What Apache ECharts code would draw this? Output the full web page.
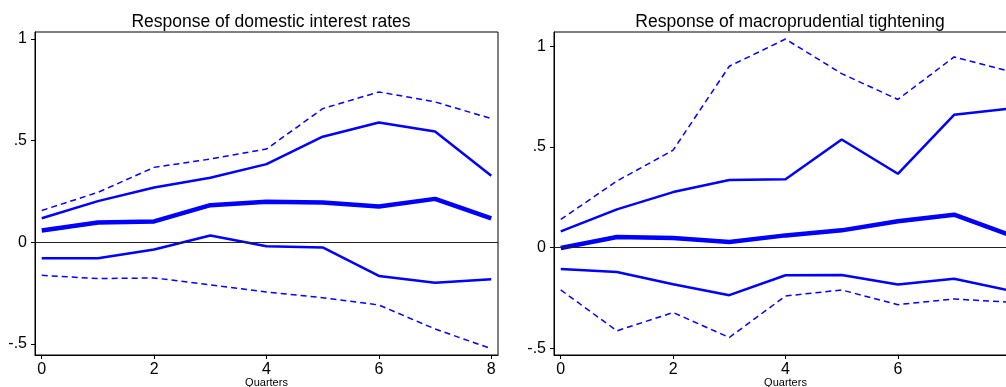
<!DOCTYPE html>
<html>
<head>
<meta charset="utf-8">
<script src="https://cdn.jsdelivr.net/npm/echarts@6/dist/echarts.min.js"></script>
<style>
  html, body { margin: 0; padding: 0; background: #fff; }
  #chart { width: 1006px; height: 387px; }
</style>
</head>
<body>
<div id="chart"></div>
<script>
  // horizon in quarters
  var quarters = [0, 1, 2, 3, 4, 5, 6, 7, 8];
  var xTicks = [0, 2, 4, 6, 8];
  var yTicks = [-0.5, 0, 0.5, 1];

  // left panel: domestic interest rates
  var rateUpper90 = [0.156, 0.245, 0.368, 0.409, 0.458, 0.657, 0.739, 0.690, 0.608];
  var rateUpper68 = [0.118, 0.202, 0.269, 0.317, 0.384, 0.519, 0.589, 0.545, 0.327];
  var rateIrf = [0.057, 0.097, 0.102, 0.182, 0.199, 0.195, 0.176, 0.213, 0.117];
  var rateLower68 = [-0.079, -0.079, -0.036, 0.033, -0.020, -0.026, -0.166, -0.199, -0.182];
  var rateLower90 = [-0.163, -0.179, -0.176, -0.210, -0.245, -0.273, -0.309, -0.427, -0.524];

  // right panel: macroprudential tightening
  var mpUpper90 = [0.140, 0.331, 0.484, 0.901, 1.036, 0.864, 0.736, 0.947, 0.875];
  var mpUpper68 = [0.081, 0.190, 0.276, 0.336, 0.340, 0.537, 0.367, 0.660, 0.691];
  var mpIrf = [-0.002, 0.053, 0.048, 0.028, 0.061, 0.086, 0.131, 0.164, 0.062];
  var mpLower68 = [-0.106, -0.121, -0.182, -0.236, -0.137, -0.136, -0.183, -0.154, -0.213];
  var mpLower90 = [-0.210, -0.413, -0.322, -0.446, -0.240, -0.210, -0.283, -0.255, -0.271];

  var font = 'Liberation Sans, Arial, sans-serif';

  function pairs(vals) {
    return quarters.map(function (q, i) { return [q, vals[i]]; });
  }

  function fmtY(v) {
    if (v === 0) return '0';
    if (v === 1) return '1';
    return String(v).replace('0.', '.');
  }

  function xAxisFor(idx) {
    return {
      type: 'value', gridIndex: idx, min: -0.12, max: 8.12,
      name: 'Quarters', nameLocation: 'middle', nameGap: 22, nameMoveOverlap: false,
      nameTextStyle: { fontFamily: font, fontSize: 11, color: '#000', verticalAlign: 'top' },
      axisLine: { show: true, onZero: false, lineStyle: { color: '#000', width: 1 } },
      axisTick: { show: true, length: 4, customValues: xTicks, lineStyle: { color: '#000' } },
      axisLabel: { customValues: xTicks, fontFamily: font, fontSize: 16, color: '#000', margin: 7 },
      splitLine: { show: false }
    };
  }

  function yAxisFor(idx, min, max) {
    return {
      type: 'value', gridIndex: idx, min: min, max: max,
      axisLine: { show: true, onZero: false, lineStyle: { color: '#000', width: 1 } },
      axisTick: { show: true, length: 4, customValues: yTicks, lineStyle: { color: '#000' } },
      axisLabel: { customValues: yTicks, formatter: fmtY, fontFamily: font, fontSize: 16, color: '#000', margin: 8 },
      splitLine: { show: false }
    };
  }

  function bandSeries(idx, vals, width, dashed) {
    return {
      type: 'line', xAxisIndex: idx, yAxisIndex: idx, data: pairs(vals),
      showSymbol: false, symbol: 'none', silent: true, animation: false,
      lineStyle: { color: '#0000ff', width: width, type: dashed ? [6, 4] : 'solid' }
    };
  }

  function irfSeries(idx, vals) {
    var s = bandSeries(idx, vals, 4.5, false);
    s.markLine = {
      silent: true, symbol: 'none', label: { show: false }, animation: false,
      lineStyle: { color: '#222', width: 1, type: 'solid' },
      data: [{ yAxis: 0 }]
    };
    return s;
  }

  var myChart = echarts.init(document.getElementById('chart'));
  myChart.setOption({
    backgroundColor: '#fff',
    animation: false,
    title: [
      { text: 'Response of domestic interest rates', left: 266, top: 8, textAlign: 'center',
        textStyle: { fontFamily: font, fontSize: 17.5, fontWeight: 'normal', color: '#000' } },
      { text: 'Response of macroprudential tightening', left: 785, top: 8, textAlign: 'center',
        textStyle: { fontFamily: font, fontSize: 17.5, fontWeight: 'normal', color: '#000' } }
    ],
    grid: [
      { left: 35, top: 32, width: 463, height: 323, outerBoundsMode: 'none', containLabel: false,
        show: true, borderColor: '#000', borderWidth: 1, backgroundColor: '#fff' },
      { left: 554, top: 32, width: 463, height: 323, outerBoundsMode: 'none', containLabel: false,
        show: true, borderColor: '#000', borderWidth: 1, backgroundColor: '#fff' }
    ],
    xAxis: [xAxisFor(0), xAxisFor(1)],
    yAxis: [yAxisFor(0, -0.555, 1.034), yAxisFor(1, -0.533, 1.071)],
    series: [
      irfSeries(0, rateIrf),
      bandSeries(0, rateUpper68, 2.5, false),
      bandSeries(0, rateLower68, 2.5, false),
      bandSeries(0, rateUpper90, 1.5, true),
      bandSeries(0, rateLower90, 1.5, true),
      irfSeries(1, mpIrf),
      bandSeries(1, mpUpper68, 2.5, false),
      bandSeries(1, mpLower68, 2.5, false),
      bandSeries(1, mpUpper90, 1.5, true),
      bandSeries(1, mpLower90, 1.5, true)
    ]
  });
</script>
</body>
</html>
